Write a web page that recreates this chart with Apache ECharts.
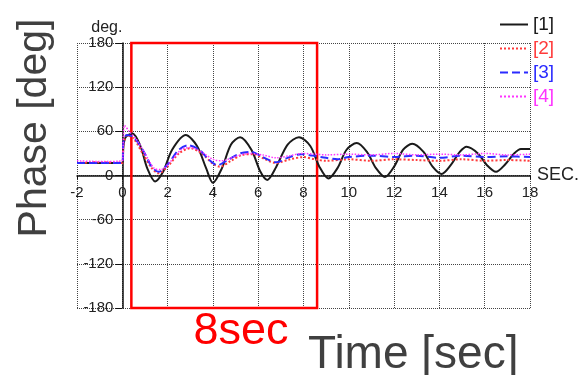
<!DOCTYPE html>
<html>
<head>
<meta charset="utf-8">
<script src="https://cdn.jsdelivr.net/npm/echarts@6/dist/echarts.min.js"></script>
<style>
  html, body { margin: 0; padding: 0; background: #fff; }
  #chart { width: 582px; height: 375px; }
</style>
</head>
<body>
<div id="chart"></div>
<script>
// 读图得到的数据 (time [sec], phase [deg])
var seriesNames = ["[1]", "[2]", "[3]", "[4]"];
var xTicks = [-2, 18, 2];      // min, max, interval
var yTicks = [-180, 180, 60];
var boxRange = [0.4, 8.6];     // 红框 8sec

var t1 = [-2, -1, 0, 0.05, 0.15, 0.45, 0.8, 1.1, 1.45, 1.8, 2.2, 2.8, 3.3, 3.7, 4.0, 4.4, 4.8, 5.2, 5.7, 6.1, 6.4, 6.8, 7.3, 7.8, 8.3, 8.7, 9.1, 9.5, 9.9, 10.35, 10.8, 11.2, 11.6, 12.0, 12.4, 12.8, 13.3, 13.7, 14.1, 14.5, 14.9, 15.2, 15.7, 16.1, 16.5, 16.9, 17.3, 17.6, 18];
var v1 = [17, 17, 17, 40, 52, 57, 40, 10, -8, 5, 35, 55, 40, 10, -10, 10, 42, 52, 35, 5, -6, 12, 42, 52, 40, 12, -4, 10, 35, 44, 32, 10, -2, 12, 35, 43, 32, 12, 2, 14, 32, 39, 30, 14, 5, 15, 30, 36, 36];

var t2 = [-2, -1, 0, 0.05, 0.2, 0.5, 0.9, 1.3, 1.6, 2.0, 2.5, 3.0, 3.5, 4.0, 4.3, 4.8, 5.3, 5.8, 6.3, 6.8, 7.4, 8.0, 8.5, 9, 10, 11, 12, 13, 14, 15, 16, 17, 18];
var v2 = [17, 18, 17, 40, 55, 50, 30, 10, 3, 12, 30, 37, 30, 16, 12, 20, 28, 29, 22, 17, 22, 25, 22, 20, 22, 20, 22, 21, 20, 22, 20, 21, 20];

var t3 = [-2, -1, 0, 0.05, 0.2, 0.5, 0.9, 1.3, 1.6, 2.0, 2.5, 2.9, 3.4, 3.8, 4.2, 4.7, 5.2, 5.7, 6.2, 6.8, 7.3, 7.9, 8.4, 9, 9.5, 10, 11, 12, 13, 14, 15, 16, 17, 18];
var v3 = [17, 17, 17, 45, 55, 52, 35, 12, 5, 15, 35, 41, 35, 22, 14, 22, 30, 32, 25, 18, 24, 29, 27, 24, 22, 25, 27, 25, 27, 24, 27, 25, 26, 25];

var t4 = [-2, -1, 0, 0.05, 0.1, 0.3, 0.6, 1.0, 1.4, 1.7, 2.1, 2.6, 3.0, 3.5, 4.0, 4.4, 5.0, 5.6, 6.2, 6.8, 7.4, 8.0, 8.5, 9, 10, 11, 12, 13, 14, 15, 16, 17, 18];
var v4 = [20, 19, 20, 55, 68, 60, 50, 30, 10, 8, 18, 35, 38, 32, 22, 20, 26, 30, 28, 24, 27, 30, 29, 28, 29, 28, 30, 28, 29, 28, 30, 28, 29];

var lineColors = ["#1a1a1a", "#ff3b3b", "#2b2bff", "#ff33ff"];
var lineTypes = ["solid", "dotted", "dashed", "dotted"];
var lineWidths = [2, 2, 2, 1.5];
var sans = "'Liberation Sans', Arial, sans-serif";

function zip(ts, vs) {
  return ts.map(function (t, i) { return [t, vs[i]]; });
}

var chart = echarts.init(document.getElementById("chart"));

var dataList = [zip(t1, v1), zip(t2, v2), zip(t3, v3), zip(t4, v4)];
var series = dataList.map(function (d, i) {
  return {
    name: seriesNames[i],
    type: "line",
    symbol: "none",
    smooth: 0.3,
    z: 3 + i,
    lineStyle: { color: lineColors[i], type: lineTypes[i], width: lineWidths[i] },
    itemStyle: { color: lineColors[i] },
    data: d,
  };
});

// 红框标注
series[0].markArea = {
  silent: true,
  itemStyle: { color: "rgba(0,0,0,0)", borderColor: "#ff0000", borderWidth: 2.5 },
  data: [[{ xAxis: boxRange[0], yAxis: yTicks[0] }, { xAxis: boxRange[1], yAxis: yTicks[1] }]],
};

// 网格尺寸，用来把坐标轴移到 0 处
var gridL = 77, gridR = 51, gridT = 43, gridB = 67;
var plotW = 582 - gridL - gridR, plotH = 375 - gridT - gridB;
var xZeroOffset = -plotW * (0 - xTicks[0]) / (xTicks[1] - xTicks[0]);
var yZeroOffset = -plotH * (0 - yTicks[0]) / (yTicks[1] - yTicks[0]);

var option = {
  animation: false,
  grid: { left: gridL, right: gridR, top: gridT, bottom: gridB },
  legend: {
    orient: "vertical",
    left: 494,
    top: 10,
    itemWidth: 28,
    itemHeight: 10,
    itemGap: 5,
    itemStyle: { opacity: 0 },
    textStyle: { fontSize: 19, fontFamily: sans },
    data: seriesNames.map(function (n, i) {
      return { name: n, textStyle: { color: lineColors[i] } };
    }),
  },
  xAxis: {
    type: "value",
    position: "bottom",
    offset: yZeroOffset,
    min: xTicks[0],
    max: xTicks[1],
    interval: xTicks[2],
    name: "SEC.",
    nameGap: 7,
    nameTextStyle: { fontSize: 18, fontFamily: sans, color: "#222" },
    axisLine: { onZero: false, lineStyle: { color: "#111", width: 1.5 } },
    axisTick: { show: true, length: 4, lineStyle: { color: "#111" } },
    axisLabel: { color: "#222", fontSize: 15, fontFamily: sans, margin: 10 },
    splitLine: { show: true, lineStyle: { color: "#444", type: "dotted", width: 1 } },
  },
  yAxis: {
    type: "value",
    position: "left",
    offset: xZeroOffset,
    min: yTicks[0],
    max: yTicks[1],
    interval: yTicks[2],
    name: "deg.",
    nameGap: 4,
    nameTextStyle: { fontSize: 16, fontFamily: sans, color: "#222", align: "right" },
    axisLine: { onZero: false, lineStyle: { color: "#111", width: 1.5 } },
    axisTick: { show: true, length: 7, lineStyle: { color: "#111" } },
    axisLabel: { color: "#222", fontSize: 15, fontFamily: sans, margin: 9 },
    splitLine: { show: true, lineStyle: { color: "#444", type: "dotted", width: 1 } },
  },
  graphic: [
    {
      type: "text",
      x: 35, y: 128,
      rotation: Math.PI / 2,
      style: {
        text: "Phase [deg]",
        font: "41px " + sans,
        fill: "#404040",
        align: "center",
        verticalAlign: "middle",
      },
    },
    {
      type: "text",
      x: 241, y: 332,
      style: {
        text: "8sec",
        font: "45px " + sans,
        fill: "#ff0000",
        align: "center",
        verticalAlign: "middle",
      },
    },
    {
      type: "text",
      x: 308, y: 355,
      style: {
        text: "Time [sec]",
        font: "46px " + sans,
        fill: "#404040",
        align: "left",
        verticalAlign: "middle",
      },
    },
  ],
  series: series,
};

chart.setOption(option);
window.addEventListener("resize", function () {
  chart.resize();
});
</script>
</body>
</html>
